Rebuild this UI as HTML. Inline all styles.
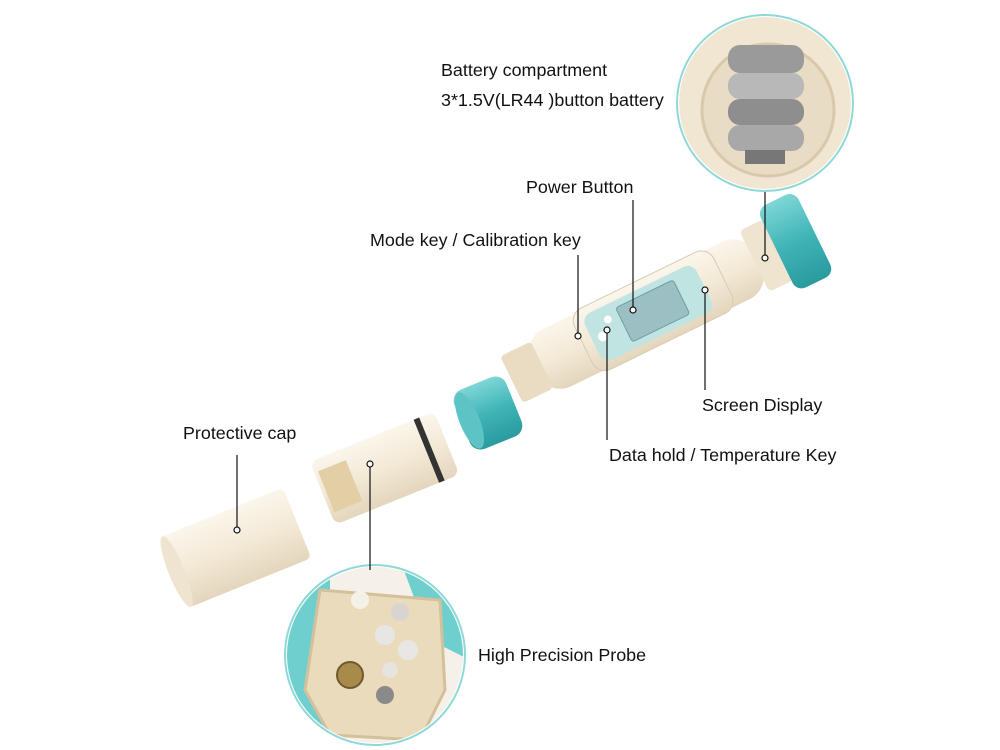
<!DOCTYPE html>
<html><head><meta charset="utf-8"><style>
html,body{margin:0;padding:0;background:#fff;}
svg{display:block;}
text{font-family:"Liberation Sans",Arial,sans-serif;font-size:17.9px;fill:#111;}
</style></head><body>
<svg width="1000" height="750" viewBox="0 0 1000 750" xmlns="http://www.w3.org/2000/svg">
<defs>
<linearGradient id="cream" x1="0" y1="0" x2="0" y2="1">
<stop offset="0" stop-color="#fbf6ec"/><stop offset="0.5" stop-color="#f3e9d6"/><stop offset="1" stop-color="#e4d6bd"/>
</linearGradient>
<linearGradient id="teal" x1="0" y1="0" x2="0" y2="1">
<stop offset="0" stop-color="#7fd6d6"/><stop offset="0.5" stop-color="#3fb5b8"/><stop offset="1" stop-color="#2a9a9e"/>
</linearGradient>
<clipPath id="c1"><circle cx="765" cy="103" r="86"/></clipPath>
<clipPath id="c2"><circle cx="375" cy="655" r="88"/></clipPath>
</defs>

<circle cx="765" cy="103" r="88" fill="#fff" stroke="#8fd8d8" stroke-width="2"/>
<g clip-path="url(#c1)">
<circle cx="765" cy="103" r="86" fill="#f1e6d2"/>
<circle cx="768" cy="110" r="66" fill="#e8dcc5" stroke="#d8c8ac" stroke-width="3"/>
<rect x="728" y="45" width="76" height="28" rx="12" fill="#9a9a9a"/>
<rect x="728" y="73" width="76" height="26" rx="12" fill="#b8b8b8"/>
<rect x="728" y="99" width="76" height="26" rx="12" fill="#8e8e8e"/>
<rect x="728" y="125" width="76" height="26" rx="12" fill="#a8a8a8"/>
<rect x="745" y="150" width="40" height="14" fill="#777"/>
</g>

<g transform="rotate(-26 650 310)">
<rect x="520" y="280" width="250" height="64" rx="26" fill="url(#cream)"/>
<rect x="575" y="278" width="155" height="68" rx="14" fill="url(#cream)" stroke="#d8cbb2"/>
<rect x="585" y="286" width="124" height="52" rx="10" fill="#bfe4e2"/>
<rect x="620" y="293" width="64" height="38" rx="3" fill="#9bbfc3" stroke="#6f9ea3"/>
<rect x="495" y="286" width="34" height="52" rx="4" fill="#e9dcc3"/>
<rect x="765" y="278" width="28" height="68" rx="5" fill="#efe4cf"/>
<rect x="790" y="266" width="42" height="92" rx="10" fill="url(#teal)"/>
<circle cx="596" cy="313" r="5" fill="#fff"/>
<circle cx="608" cy="300" r="4" fill="#fff"/>
</g>

<g transform="rotate(-22 488 413)">
<rect x="460" y="381" width="56" height="64" rx="12" fill="url(#teal)"/>
<ellipse cx="468" cy="413" rx="10" ry="30" fill="#5ec3c4"/>
</g>

<g transform="rotate(-22 380 470)">
<rect x="318" y="436" width="134" height="68" rx="8" fill="url(#cream)"/>
<rect x="430" y="436" width="6" height="68" fill="#333"/>
<rect x="322" y="448" width="30" height="44" fill="#e2cfa6"/>
</g>

<g transform="rotate(-22 235 548)">
<rect x="170" y="510" width="132" height="76" rx="6" fill="url(#cream)"/>
<ellipse cx="172" cy="548" rx="8" ry="38" fill="#efe4cf"/>
</g>

<circle cx="375" cy="655" r="90" fill="#fff" stroke="#8fd8d8" stroke-width="2"/>
<g clip-path="url(#c2)">
<rect x="280" y="560" width="200" height="200" fill="#f6f1e8"/>
<path d="M280 600 Q300 560 330 575 L330 760 L280 760Z" fill="#6fcfcf"/>
<path d="M400 560 Q440 570 470 600 L470 660 L430 640Z" fill="#6fcfcf"/>
<path d="M320 590 L440 600 L445 690 L420 740 L330 735 L305 690Z" fill="#eadbbd" stroke="#d4c09a" stroke-width="3"/>
<circle cx="360" cy="600" r="9" fill="#f6f1e8"/>
<circle cx="400" cy="612" r="9" fill="#d8d4cf"/>
<circle cx="385" cy="635" r="10" fill="#e8e6e4"/>
<circle cx="350" cy="675" r="13" fill="#a88a4a" stroke="#6f5a30" stroke-width="2"/>
<circle cx="390" cy="670" r="8" fill="#e6e3e0"/>
<circle cx="408" cy="650" r="10" fill="#e9e7e4"/>
<circle cx="385" cy="695" r="9" fill="#8a8a8a"/>
</g>

<g stroke="#111" stroke-width="1.2" fill="#fff">
<line x1="765" y1="192" x2="765" y2="258"/><circle cx="765" cy="258" r="3"/>
<line x1="633" y1="200" x2="633" y2="310"/><circle cx="633" cy="310" r="3"/>
<line x1="578" y1="255" x2="578" y2="336"/><circle cx="578" cy="336" r="3"/>
<line x1="705" y1="290" x2="705" y2="390"/><circle cx="705" cy="290" r="3"/>
<line x1="607" y1="330" x2="607" y2="440"/><circle cx="607" cy="330" r="3"/>
<line x1="237" y1="455" x2="237" y2="530"/><circle cx="237" cy="530" r="3"/>
<line x1="370" y1="464" x2="370" y2="570"/><circle cx="370" cy="464" r="3"/>
</g>

<text x="441" y="76">Battery compartment</text>
<text x="441" y="106">3*1.5V(LR44 )button battery</text>
<text x="526" y="193">Power Button</text>
<text x="370" y="246">Mode key / Calibration key</text>
<text x="702" y="411">Screen Display</text>
<text x="609" y="461">Data hold / Temperature Key</text>
<text x="183" y="439">Protective cap</text>
<text x="478" y="661">High Precision Probe</text>
</svg>
</body></html>
